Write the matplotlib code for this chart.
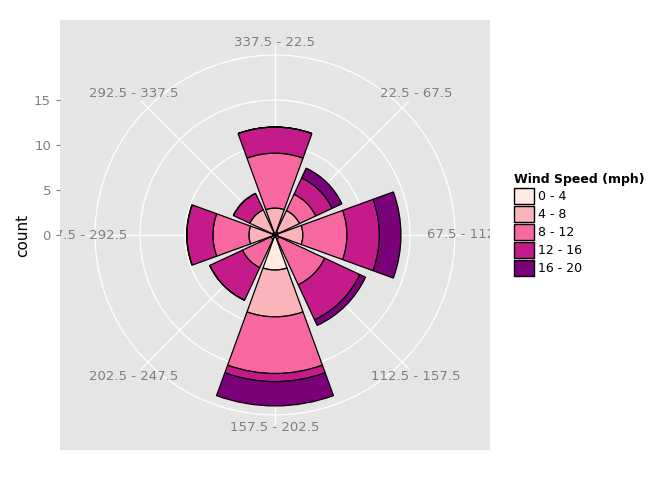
import numpy as np
import matplotlib.pyplot as plt
from matplotlib.patches import Patch

# wind rose counts, stacked by speed bin
directions = ["337.5 - 22.5", "22.5 - 67.5", "67.5 - 112.5", "112.5 - 157.5",
              "157.5 - 202.5", "202.5 - 247.5", "247.5 - 292.5", "292.5 - 337.5"]
angles_deg = [0, 45, 90, 135, 180, 225, 270, 315]
speed_bins = ["0 - 4", "4 - 8", "8 - 12", "12 - 16", "16 - 20"]
counts = np.array([
    [0.0, 3.0, 6.1, 2.9, 0.0],   # N
    [0.4, 2.6, 2.0, 2.0, 1.2],   # NE
    [0.3, 2.8, 4.9, 3.6, 2.4],   # E
    [0.0, 0.5, 5.6, 4.3, 0.7],   # SE
    [3.9, 5.2, 6.3, 0.9, 2.7],   # S
    [0.0, 0.5, 3.5, 4.0, 0.0],   # SW
    [0.2, 2.7, 4.0, 2.9, 0.0],   # W
    [0.3, 2.8, 0.0, 2.0, 0.0],   # NW
])
colors = ["#FEEBE2", "#FBB4B9", "#F768A1", "#C51B8A", "#7A0177"]

RMAX = 23.9
fig = plt.figure(figsize=(6.72, 4.8), dpi=100)
rect = [60 / 672, 30 / 480, 430 / 672, 430 / 480]

# gray square panel with y axis
bg = fig.add_axes(rect)
bg.set_facecolor("#E5E5E5")
bg.set_xlim(-RMAX, RMAX)
bg.set_ylim(-RMAX, RMAX)
for s in bg.spines.values():
    s.set_visible(False)
bg.set_xticks([])
bg.set_yticks([0, 5, 10, 15])
bg.tick_params(axis="y", colors="#7F7F7F", labelsize=9.5, length=3)
bg.set_ylabel("count", fontsize=11, color="black")
bg.yaxis.set_label_coords(-0.07, 0.5)

# grid
t = np.linspace(0, 2 * np.pi, 400)
for r in [5, 10, 15, 20]:
    bg.plot(r * np.sin(t), r * np.cos(t), color="white", lw=0.9, zorder=1)
for a in angles_deg:
    ar = np.deg2rad(a)
    bg.plot([0, 21 * np.sin(ar)], [0, 21 * np.cos(ar)], color="white", lw=0.9, zorder=1)

# direction labels
for a, lab in zip(angles_deg, directions):
    ar = np.deg2rad(a)
    rr = 21.4 if a % 90 == 0 else 22.2
    bg.text(rr * np.sin(ar), rr * np.cos(ar), lab, ha="center", va="center",
            color="#7F7F7F", fontsize=9.5, clip_on=True, zorder=2)

# polar bars
ax = fig.add_axes(rect, projection="polar")
ax.patch.set_alpha(0)
ax.set_theta_zero_location("N")
ax.set_theta_direction(-1)
ax.set_ylim(0, RMAX)
ax.axis("off")

theta = np.deg2rad(angles_deg)
width = np.deg2rad(40)
bottom = np.zeros(len(angles_deg))
for i, (lab, col) in enumerate(zip(speed_bins, colors)):
    ax.bar(theta, counts[:, i], width=width, bottom=bottom, color=col,
           edgecolor="black", linewidth=0.9)
    bottom += counts[:, i]

handles = [Patch(facecolor=c, edgecolor="black") for c in colors]
leg = fig.legend(handles, speed_bins, title="Wind Speed (mph)", loc="upper left",
                 bbox_to_anchor=(503 / 672, 1 - 162 / 480), frameon=False,
                 fontsize=9, title_fontsize=9, handlelength=1.6, handleheight=1.6,
                 labelspacing=0.15, handletextpad=0.3)
leg.get_title().set_fontweight("bold")
leg._legend_box.align = "left"

fig.savefig("out.png", dpi=100)
